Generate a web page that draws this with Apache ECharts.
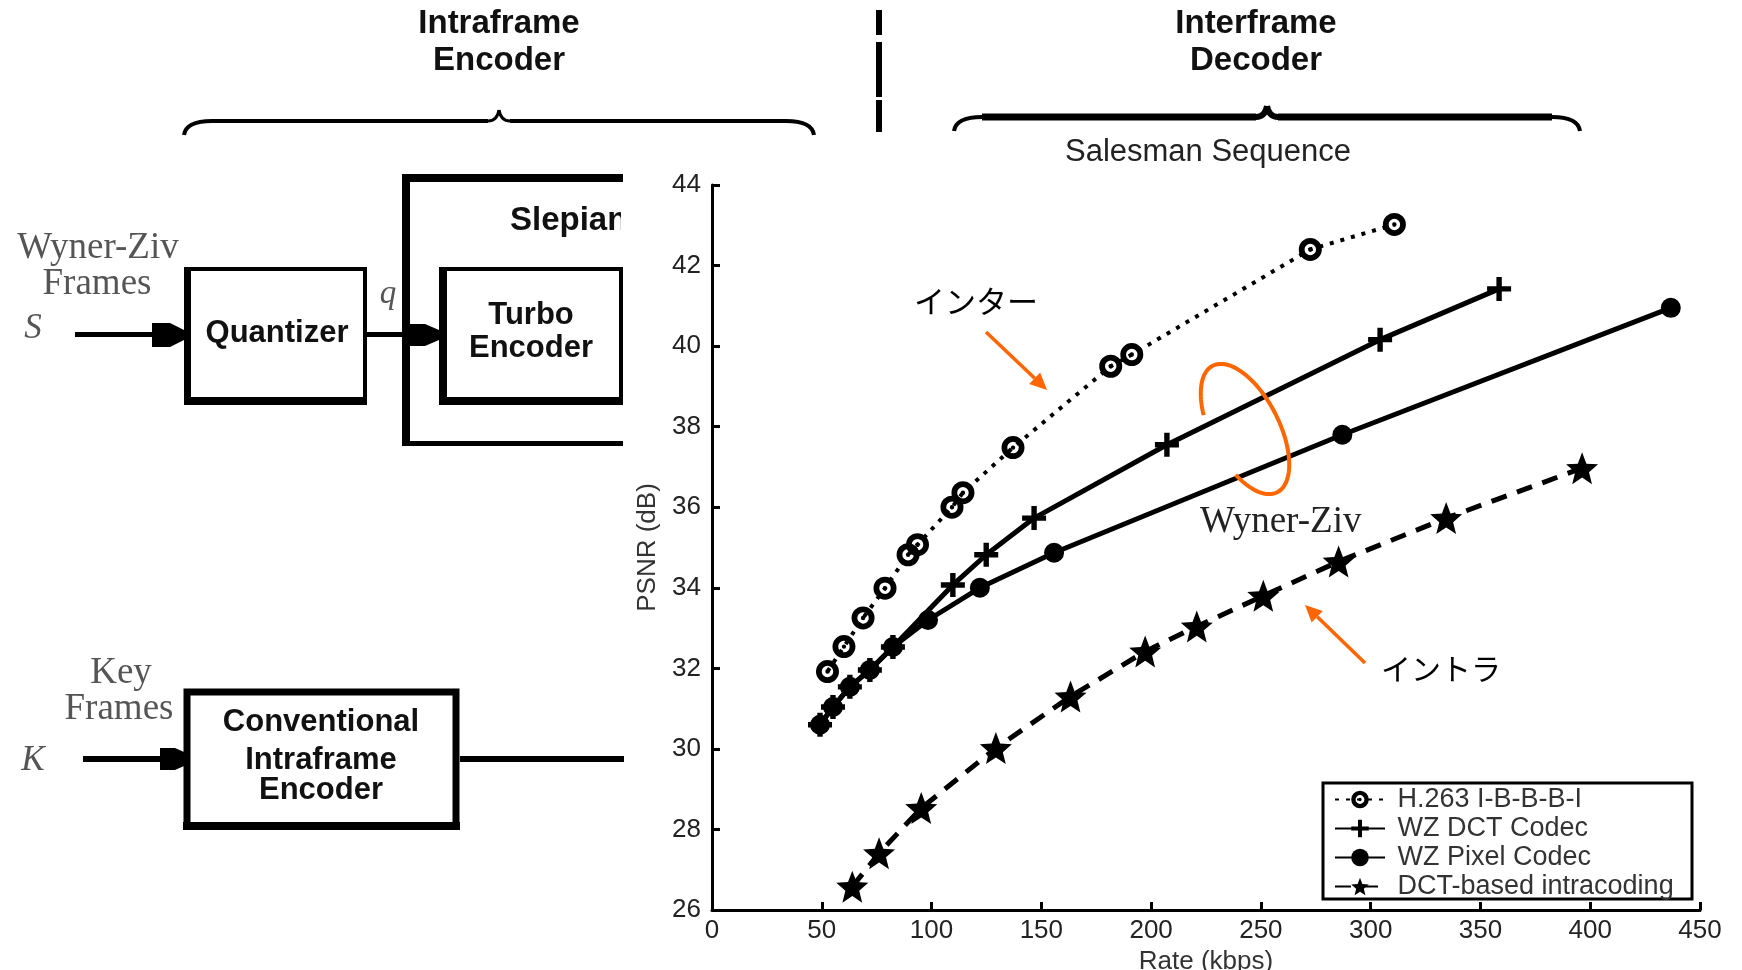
<!DOCTYPE html>
<html>
<head>
<meta charset="utf-8">
<script src="https://cdn.jsdelivr.net/npm/echarts@6/dist/echarts.min.js"></script>
<style>
html, body { margin: 0; padding: 0; background: #fff; }
#chart { width: 1742px; height: 970px; }
</style>
</head>
<body>
<div id="chart"></div>
<script>
// Salesman Sequence: rate (kbps) vs PSNR (dB)
var h263Rate = [52.6, 60.1, 68.8, 78.8, 89.3, 93.6, 109.3, 114.3, 137.1, 181.6, 191.2, 272.5, 310.8]
var h263Psnr = [31.92, 32.54, 33.25, 33.99, 34.82, 35.07, 36.0, 36.36, 37.48, 39.5, 39.79, 42.4, 43.02]
var wzDctRate = [49.2, 55.1, 62.8, 71.9, 82.4, 109.7, 124.9, 146.7, 207.2, 304.3, 358.5]
var wzDctPsnr = [30.6, 31.04, 31.54, 31.96, 32.53, 34.07, 34.82, 35.73, 37.55, 40.16, 41.42]
var wzPixelRate = [49.2, 55.1, 62.8, 71.9, 82.4, 98.4, 122.0, 155.8, 287.1, 436.7]
var wzPixelPsnr = [30.6, 31.04, 31.54, 31.96, 32.53, 33.2, 34.0, 34.87, 37.8, 40.95]
var intraRate = [63.9, 76.1, 95.3, 129.3, 163.3, 197.3, 220.8, 251.1, 285.4, 334.4, 396.3]
var intraPsnr = [26.58, 27.41, 28.53, 30.02, 31.3, 32.42, 33.04, 33.8, 34.65, 35.73, 36.97]
var seriesNames = ['H.263 I-B-B-B-I', 'WZ DCT Codec', 'WZ Pixel Codec', 'DCT-based intracoding']

var SANS = "'Liberation Sans', Arial, sans-serif"
var SERIF = "'Liberation Serif', 'Times New Roman', serif"
var CJK = "'Noto Sans CJK JP', sans-serif"
var ORANGE = '#ff6600'

// marker shapes
var ringSymbol = 'path://M0,12A12,12 0 1,1 24,12A12,12 0 1,1 0,12Z M6,12A6,6 0 1,0 18,12A6,6 0 1,0 6,12Z M9.7,12A2.3,2.3 0 1,1 14.3,12A2.3,2.3 0 1,1 9.7,12Z'
var plusSymbol = 'path://M9.3,0H14.7V9.3H24V14.7H14.7V24H9.3V14.7H0V9.3H9.3Z'
var starSymbol = 'path://M12,0L15.06,7.79L23.41,8.29L16.95,13.61L19.05,21.71L12,17.2L4.95,21.71L7.05,13.61L0.59,8.29L8.94,7.79Z'

function zip (xs, ys) {
  return xs.map(function (x, i) { return [x, ys[i]] })
}

function txt (s, x, y, size, opt) {
  opt = opt || {}
  return {
    type: 'text', z: 10,
    style: {
      text: s, x: x, y: y,
      fontSize: size,
      fontFamily: opt.family || SANS,
      fontWeight: opt.weight || 'normal',
      fontStyle: opt.style || 'normal',
      fill: opt.color || '#111',
      align: opt.align || 'center', textAlign: opt.align || 'center',
      verticalAlign: 'middle', textVerticalAlign: 'middle'
    }
  }
}
function bar (x, y, w, h) {
  return { type: 'rect', z: 10, shape: { x: x, y: y, width: w, height: h }, style: { fill: '#000' } }
}
function seg (x1, y1, x2, y2, w, color) {
  return { type: 'line', z: 10, shape: { x1: x1, y1: y1, x2: x2, y2: y2 }, style: { stroke: color || '#000', lineWidth: w } }
}
function curve (x1, y1, cx, cy, x2, y2, w) {
  return { type: 'bezierCurve', z: 10, shape: { x1: x1, y1: y1, cpx1: cx, cpy1: cy, x2: x2, y2: y2 }, style: { stroke: '#000', lineWidth: w, fill: null } }
}
function poly (pts) {
  return { type: 'polygon', z: 10, shape: { points: pts }, style: { fill: '#000' } }
}
function arrow (x1, y1, x2, y2) {
  var a = Math.atan2(y2 - y1, x2 - x1)
  var L = 17, W = 8
  var bx = x2 - L * Math.cos(a), by = y2 - L * Math.sin(a)
  return [
    { type: 'line', z: 20, shape: { x1: x1, y1: y1, x2: bx, y2: by }, style: { stroke: ORANGE, lineWidth: 3.5 } },
    { type: 'polygon', z: 20, shape: { points: [[x2, y2], [bx - W * Math.sin(a), by + W * Math.cos(a)], [bx + W * Math.sin(a), by - W * Math.cos(a)]] }, style: { fill: ORANGE } }
  ]
}
function brace (x1, x2, xc, yl, yp, ye, w, wEnd) {
  return [
    curve(x1, ye, x1 + 2, yl, x1 + 28, yl, wEnd),
    seg(x1 + 28, yl, xc - 11, yl, w),
    curve(xc - 11, yl, xc - 2, yl, xc, yp, w - 1),
    curve(xc, yp, xc + 2, yl, xc + 11, yl, w - 1),
    seg(xc + 11, yl, x2 - 28, yl, w),
    curve(x2 - 28, yl, x2 - 2, yl, x2, ye, wEnd)
  ]
}

// orange ellipse around the Wyner-Ziv curves
var ellPts = []
var th = 63 * Math.PI / 180
for (var t = 116; t <= 419; t += 3) {
  var r = t * Math.PI / 180
  ellPts.push([
    1245 + 71 * Math.cos(r) * Math.cos(th) - 34 * Math.sin(r) * Math.sin(th),
    429 + 71 * Math.cos(r) * Math.sin(th) + 34 * Math.sin(r) * Math.cos(th)
  ])
}

var graphics = [].concat(
  // header labels and braces
  txt('Intraframe', 499, 24, 33, { weight: 'bold' }),
  txt('Encoder', 499, 61, 33, { weight: 'bold' }),
  txt('Interframe', 1256, 24, 33, { weight: 'bold' }),
  txt('Decoder', 1256, 61, 33, { weight: 'bold' }),
  brace(184, 814, 499, 121, 110, 135, 4, 4),
  brace(954, 1580, 1267, 117, 106, 131, 7, 4),
  bar(876, 10, 6, 25), bar(876, 42, 6, 55), bar(876, 100, 6, 32),
  txt('Salesman Sequence', 1208, 152, 31, { color: '#222' }),

  // Wyner-Ziv branch
  txt('Wyner-Ziv', 98, 248, 37, { family: SERIF, color: '#555' }),
  txt('Frames', 97, 284, 37, { family: SERIF, color: '#555' }),
  txt('S', 33, 329, 35, { family: SERIF, style: 'italic', color: '#555' }),
  bar(75, 332, 80, 5),
  poly([[152, 323], [170, 323], [184, 330], [184, 340], [170, 347], [152, 347]]),
  { type: 'rect', z: 10, shape: { x: 187, y: 269, width: 178, height: 132 }, style: { fill: null, stroke: '#000', lineWidth: 4 } },
  bar(184, 267, 7, 138), bar(184, 397, 183, 8),
  txt('Quantizer', 277, 333, 31, { weight: 'bold' }),
  bar(367, 332, 60, 5),
  txt('q', 388, 294, 33, { family: SERIF, style: 'italic', color: '#555' }),
  poly([[410, 324], [425, 324], [439, 330], [439, 340], [425, 346], [410, 346]]),
  bar(402, 174, 8, 272), bar(402, 174, 221, 8), bar(402, 441, 221, 5),
  txt('Slepian', 510, 221, 33, { weight: 'bold', align: 'left' }),
  { type: 'rect', z: 15, shape: { x: 621, y: 195, width: 38, height: 50 }, style: { fill: '#fff' } },
  { type: 'rect', z: 10, shape: { x: 441, y: 269, width: 180, height: 132 }, style: { fill: null, stroke: '#000', lineWidth: 4 } },
  bar(439, 267, 8, 138), bar(439, 397, 184, 8),
  txt('Turbo', 531, 315, 31, { weight: 'bold' }),
  txt('Encoder', 531, 348, 31, { weight: 'bold' }),

  // key frame branch
  txt('Key', 121, 673, 37, { family: SERIF, color: '#555' }),
  txt('Frames', 119, 709, 37, { family: SERIF, color: '#555' }),
  txt('K', 33, 761, 35, { family: SERIF, style: 'italic', color: '#555' }),
  bar(83, 756, 80, 6),
  poly([[160, 748], [175, 748], [184, 752], [184, 766], [175, 770], [160, 770]]),
  { type: 'rect', z: 10, shape: { x: 187, y: 692, width: 269, height: 134 }, style: { fill: null, stroke: '#000', lineWidth: 7 } },
  bar(183, 822, 277, 8),
  txt('Conventional', 321, 722, 31, { weight: 'bold' }),
  txt('Intraframe', 321, 760, 31, { weight: 'bold' }),
  txt('Encoder', 321, 790, 31, { weight: 'bold' }),
  bar(460, 756, 164, 6),

  // annotations on the chart
  txt('インター', 914, 301, 31, { family: CJK, align: 'left', color: '#000' }),
  arrow(986, 332, 1047, 390),
  txt('イントラ', 1381, 669, 30, { family: CJK, align: 'left', color: '#000' }),
  arrow(1365, 663, 1305, 605),
  { type: 'polyline', z: 20, shape: { points: ellPts }, style: { stroke: ORANGE, lineWidth: 4, fill: null } },
  txt('Wyner-Ziv', 1200, 522, 37, { family: SERIF, align: 'left', color: '#222' }),

  // legend frame
  { type: 'rect', z: 10, shape: { x: 1323, y: 783, width: 369, height: 116 }, style: { fill: '#fff', stroke: '#000', lineWidth: 3 } }
)

var chart = echarts.init(document.getElementById('chart'))
var axisCommon = {
  type: 'value',
  nameLocation: 'middle',
  nameTextStyle: { fontSize: 26, color: '#333', fontFamily: SANS },
  axisLine: { show: true, lineStyle: { color: '#000', width: 3 } },
  axisTick: { show: true, inside: true, length: 8, lineStyle: { color: '#000', width: 3 } },
  axisLabel: { fontSize: 26, color: '#222', fontFamily: SANS },
  splitLine: { show: false }
}
var option = {
  animation: false,
  backgroundColor: '#fff',
  grid: { left: 712, right: 42, top: 185, bottom: 60, outerBoundsMode: 'none' },
  xAxis: Object.assign({}, axisCommon, {
    min: 0, max: 450, interval: 50,
    name: 'Rate (kbps)', nameGap: 34,
    axisLabel: Object.assign({}, axisCommon.axisLabel, { margin: 8 })
  }),
  yAxis: Object.assign({}, axisCommon, {
    min: 26, max: 44, interval: 2,
    name: 'PSNR (dB)', nameGap: 46,
    axisLabel: Object.assign({}, axisCommon.axisLabel, { margin: 11 })
  }),
  legend: {
    orient: 'vertical', left: 1334, top: 786, padding: 0, z: 20,
    itemWidth: 50, itemHeight: 22, itemGap: 2,
    data: seriesNames,
    formatter: function (n) { return ' ' + n },
    textStyle: { fontSize: 27, lineHeight: 27, color: '#333', fontFamily: SANS }
  },
  graphic: { elements: graphics },
  series: [
    {
      name: seriesNames[0], type: 'line', data: zip(h263Rate, h263Psnr),
      symbol: ringSymbol, symbolSize: 23,
      lineStyle: { color: '#000', width: 4, type: [4, 7] },
      itemStyle: { color: '#000' }
    },
    {
      name: seriesNames[1], type: 'line', data: zip(wzDctRate, wzDctPsnr),
      symbol: plusSymbol, symbolSize: 24,
      lineStyle: { color: '#000', width: 5 },
      itemStyle: { color: '#000' }
    },
    {
      name: seriesNames[2], type: 'line', data: zip(wzPixelRate, wzPixelPsnr),
      symbol: 'circle', symbolSize: 20,
      lineStyle: { color: '#000', width: 5 },
      itemStyle: { color: '#000' }
    },
    {
      name: seriesNames[3], type: 'line', data: zip(intraRate, intraPsnr),
      symbol: starSymbol, symbolSize: 32,
      lineStyle: { color: '#000', width: 5, type: [16, 11] },
      itemStyle: { color: '#000' }
    }
  ]
}
chart.setOption(option)
</script>
</body>
</html>
